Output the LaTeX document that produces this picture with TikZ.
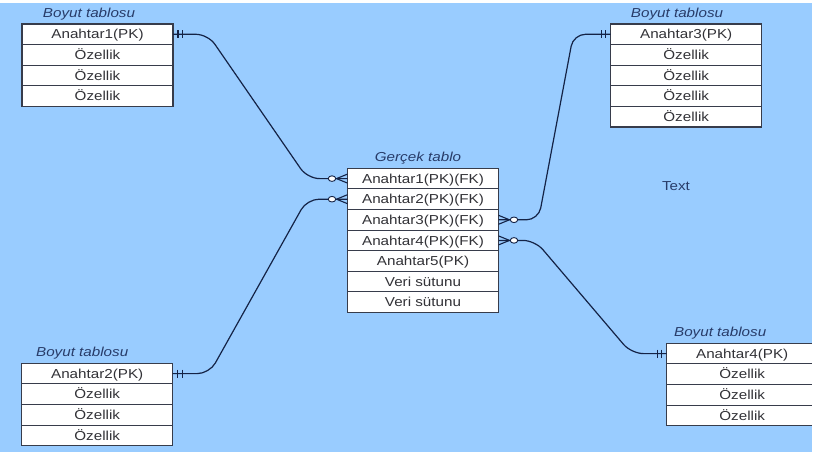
\documentclass[tikz,border=0pt]{standalone}
\usepackage{fontspec}
\setmainfont{Liberation Sans}[FakeStretch=1.17]
\usetikzlibrary{positioning,calc,shapes.geometric}

\definecolor{sky}{RGB}{153,204,255}
\definecolor{cellline}{RGB}{55,60,75}
\definecolor{celltext}{RGB}{50,50,55}
\definecolor{titletext}{RGB}{40,60,105}
\definecolor{linkline}{RGB}{20,35,70}

\tikzset{
  cell/.style={draw=cellline, line width=1.1pt, fill=white, minimum width=151pt,
    minimum height=20.6pt, inner sep=0pt, outer sep=0pt, text=celltext,
    font=\fontsize{13}{15}\selectfont, text height=9.4pt, text depth=0pt},
  below cell/.style={cell, below=0pt of #1},
  tabletitle/.style={anchor=base, text=titletext, inner sep=0pt,
    font=\fontsize{13}{15}\selectfont\itshape},
  link/.style={draw=linkline, line width=1.2pt, rounded corners=12pt},
  tick/.style={draw=linkline, line width=1.1pt},
  ring/.style={ellipse, draw=linkline, fill=white, line width=0.9pt,
    minimum width=7.5pt, minimum height=5.6pt, inner sep=0pt},
}

\begin{document}
\begin{tikzpicture}[x=1pt, y=-1pt]
  \clip (0,0) rectangle (815,452);
  \useasboundingbox (0,0) rectangle (815,452);
  \fill[white] (0,0) rectangle (815,452);
  \fill[sky] (0,3) rectangle (812,452);

  % dimension table 1
  \node[cell] (d1k) at (97.5,34.3) {Anahtar1(PK)};
  \node[below cell=d1k] (d1a) {Özellik};
  \node[below cell=d1a] (d1b) {Özellik};
  \node[below cell=d1b] (d1c) {Özellik};
  \node[tabletitle] (d1t) at ($(d1k.north)+(-8.5,-6.7)$) {Boyut tablosu};

  % dimension table 2
  \node[cell] (d2k) at (97.2,373.6) {Anahtar2(PK)};
  \node[below cell=d2k] (d2a) {Özellik};
  \node[below cell=d2a] (d2b) {Özellik};
  \node[below cell=d2b] (d2c) {Özellik};
  \node[tabletitle] (d2t) at ($(d2k.north)+(-15,-6.7)$) {Boyut tablosu};

  % dimension table 3
  \node[cell] (d3k) at (686.2,34.3) {Anahtar3(PK)};
  \node[below cell=d3k] (d3a) {Özellik};
  \node[below cell=d3a] (d3b) {Özellik};
  \node[below cell=d3b] (d3c) {Özellik};
  \node[below cell=d3c] (d3d) {Özellik};
  \node[tabletitle] (d3t) at ($(d3k.north)+(-9.2,-6.7)$) {Boyut tablosu};

  % dimension table 4
  \node[cell] (d4k) at (742.2,353.6) {Anahtar4(PK)};
  \node[below cell=d4k] (d4a) {Özellik};
  \node[below cell=d4a] (d4b) {Özellik};
  \node[below cell=d4b] (d4c) {Özellik};
  \node[tabletitle] (d4t) at ($(d4k.north)+(-22,-6.7)$) {Boyut tablosu};

  % fact table
  \node[cell] (f1) at (423,178.6) {Anahtar1(PK)(FK)};
  \node[below cell=f1] (f2) {Anahtar2(PK)(FK)};
  \node[below cell=f2] (f3) {Anahtar3(PK)(FK)};
  \node[below cell=f3] (f4) {Anahtar4(PK)(FK)};
  \node[below cell=f4] (f5) {Anahtar5(PK)};
  \node[below cell=f5] (f6) {Veri sütunu};
  \node[below cell=f6] (f7) {Veri sütunu};
  \node[tabletitle] (ft) at ($(f1.north)+(-5,-7.3)$) {Gerçek tablo};

  % free label
  \node[text=titletext, font=\fontsize{13}{15}\selectfont, inner sep=0pt] (lbl) at (676,186) {Text};

  % relationships
  \draw[link] (d1k.east) -- ++(35,0) -- ($(f1.west)+(-40,0)$) -- (f1.west);
  \draw[link] (d2k.east) -- ++(36.7,0) -- ($(f2.west)+(-40.5,0)$) -- (f2.west);
  \draw[link] (f3.east) -- ++(40,0) -- ($(d3k.west)+(-37.3,0)$) -- (d3k.west);
  \draw[link] (f4.east) -- ++(36.5,0) -- ($(d4k.west)+(-35.3,0)$) -- (d4k.west);

  % "one and only one" bars
  \draw[tick] ($(d1k.east)+(5,-4)$) -- ++(0,8) ($(d1k.east)+(9.5,-4)$) -- ++(0,8);
  \draw[tick] ($(d2k.east)+(5,-4)$) -- ++(0,8) ($(d2k.east)+(9.5,-4)$) -- ++(0,8);
  \draw[tick] ($(d3k.west)+(-5,-4)$) -- ++(0,8) ($(d3k.west)+(-9.5,-4)$) -- ++(0,8);
  \draw[tick] ($(d4k.west)+(-5,-4)$) -- ++(0,8) ($(d4k.west)+(-9.5,-4)$) -- ++(0,8);

  % "zero or many" crow's feet
  \draw[tick] ($(f1.west)+(-11,0)$) -- ($(f1.west)+(0,-4.5)$)
              ($(f1.west)+(-11,0)$) -- ($(f1.west)+(0,4.5)$);
  \draw[tick] ($(f2.west)+(-11,0)$) -- ($(f2.west)+(0,-4.5)$)
              ($(f2.west)+(-11,0)$) -- ($(f2.west)+(0,4.5)$);
  \draw[tick] ($(f3.east)+(11,0)$) -- ($(f3.east)+(0,-4.5)$)
              ($(f3.east)+(11,0)$) -- ($(f3.east)+(0,4.5)$);
  \draw[tick] ($(f4.east)+(11,0)$) -- ($(f4.east)+(0,-4.5)$)
              ($(f4.east)+(11,0)$) -- ($(f4.east)+(0,4.5)$);
  \node[ring] (o1) at ($(f1.west)+(-15.5,0)$) {};
  \node[ring] (o2) at ($(f2.west)+(-15.5,0)$) {};
  \node[ring] (o3) at ($(f3.east)+(15.5,0)$) {};
  \node[ring] (o4) at ($(f4.east)+(15.5,0)$) {};

  % right-hand margin
  \fill[white] (812,0) rectangle (815,452);
\end{tikzpicture}
\end{document}
